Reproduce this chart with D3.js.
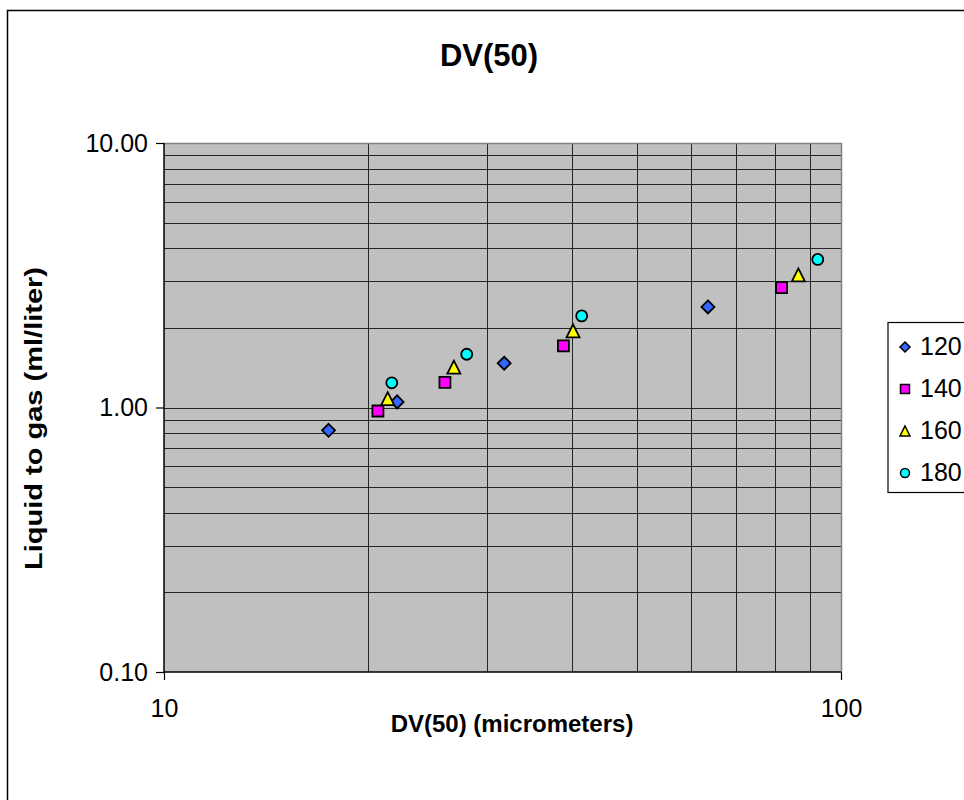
<!DOCTYPE html>
<html>
<head>
<meta charset="utf-8">
<script src="https://cdn.jsdelivr.net/npm/d3@7"></script>
<style>
  body { margin: 0; background: #fff; }
  svg { display: block; font-family: "Liberation Sans", Arial, sans-serif; }
</style>
</head>
<body>
<div id="chart"></div>
<script>
// series (x = DV(50) in micrometers, y = liquid to gas ml/liter)
const seriesNames = ['120', '140', '160', '180'];
const seriesColors = ['#3366ff', '#ff00ff', '#ffff00', '#00ffff'];
const seriesShapes = ['diamond', 'square', 'triangle', 'circle'];
const x120 = [17.5, 22.1, 31.8, 63.6];
const y120 = [0.82, 1.05, 1.47, 2.40];
const x140 = [20.7, 26.0, 38.9, 81.7];
const y140 = [0.97, 1.245, 1.71, 2.84];
const x160 = [21.4, 26.8, 40.2, 86.5];
const y160 = [1.08, 1.42, 1.95, 3.17];
const x180 = [21.7, 28.0, 41.4, 92.4];
const y180 = [1.24, 1.59, 2.22, 3.63];
const xTicks = [10, 100];
const yTicks = [0.1, 1, 10];

const seriesX = [x120, x140, x160, x180];
const seriesY = [y120, y140, y160, y180];

const W = 964, H = 800;
const plot = { left: 164, top: 143, right: 841, bottom: 672 };

const svg = d3.select('#chart').append('svg')
    .attr('width', W)
    .attr('height', H);

// outer chart border (runs past the right/bottom edge like the reference)
svg.append('rect')
    .attr('x', 7.5).attr('y', 10.5)
    .attr('width', W + 20).attr('height', H + 20)
    .attr('fill', '#fff')
    .attr('stroke', '#000')
    .attr('stroke-width', 1.5);

const x = d3.scaleLog().domain([10, 100]).range([plot.left, plot.right]);
const y = d3.scaleLog().domain([0.1, 10]).range([plot.bottom, plot.top]);

svg.append('rect')
    .attr('x', plot.left).attr('y', plot.top)
    .attr('width', plot.right - plot.left)
    .attr('height', plot.bottom - plot.top)
    .attr('fill', '#c0c0c0');

// gridlines at every log step (2..9 in each decade)
const grid = svg.append('g').attr('shape-rendering', 'crispEdges');
const xGrid = d3.range(2, 10).map(d => d * 10);
const yGrid = [].concat(
    d3.range(2, 10).map(d => d * 0.1),
    [1],
    d3.range(2, 10).map(d => d * 1)
);

grid.selectAll('line.xg')
    .data(xGrid)
    .enter()
    .append('line')
    .attr('class', 'xg')
    .attr('x1', d => Math.round(x(d)) + 0.5).attr('x2', d => Math.round(x(d)) + 0.5)
    .attr('y1', plot.top).attr('y2', plot.bottom)
    .attr('stroke', '#262626');

grid.selectAll('line.yg')
    .data(yGrid)
    .enter()
    .append('line')
    .attr('class', 'yg')
    .attr('x1', plot.left).attr('x2', plot.right)
    .attr('y1', d => Math.round(y(d)) + 0.5).attr('y2', d => Math.round(y(d)) + 0.5)
    .attr('stroke', '#262626');

// plot border (grey on top/right)
svg.append('path')
    .attr('d', `M${plot.left},${plot.top + 0.5}H${plot.right + 0.5}V${plot.bottom}`)
    .attr('fill', 'none')
    .attr('stroke', '#808080')
    .attr('stroke-width', 1.5);

// axes
const xAxis = d3.axisBottom(x)
    .tickValues(xTicks)
    .tickFormat(d3.format('d'))
    .tickSize(8)
    .tickPadding(19);
const yAxis = d3.axisLeft(y)
    .tickValues(yTicks)
    .tickFormat(d3.format('.2f'))
    .tickSize(8)
    .tickPadding(8);

const gx = svg.append('g')
    .attr('transform', `translate(0,${plot.bottom})`)
    .call(xAxis);
const gy = svg.append('g')
    .attr('transform', `translate(${plot.left},0)`)
    .call(yAxis);

[gx, gy].forEach(g => {
    g.select('.domain').attr('stroke', '#000').attr('stroke-width', 1.5);
    g.selectAll('.tick line').attr('stroke', '#000').attr('stroke-width', 1.2);
    g.selectAll('.tick text')
        .attr('fill', '#000')
        .style('font-size', '25px')
        .style('font-family', '"Liberation Sans", Arial, sans-serif');
});
gy.select('.domain').attr('d', `M0,${plot.bottom}V${plot.top}`);
gx.select('.domain').attr('d', `M${plot.left},0H${plot.right}`);

// titles
svg.append('text')
    .attr('x', 489).attr('y', 66)
    .attr('text-anchor', 'middle')
    .attr('font-weight', 'bold')
    .attr('font-size', 31)
    .text('DV(50)');

svg.append('text')
    .attr('x', 512).attr('y', 732)
    .attr('text-anchor', 'middle')
    .attr('font-weight', 'bold')
    .attr('font-size', 24)
    .text('DV(50) (micrometers)');

svg.append('text')
    .attr('transform', `translate(42,${(plot.top + plot.bottom) / 2 + 11}) rotate(-90)`)
    .attr('text-anchor', 'middle')
    .attr('font-weight', 'bold')
    .attr('font-size', 24)
    .attr('textLength', 303)
    .attr('lengthAdjust', 'spacingAndGlyphs')
    .text('Liquid to gas (ml/liter)');

// marker shapes
function markerPath(shape, s) {
    const h = s / 2;
    if (shape === 'diamond') return `M0,${-h}L${h},0L0,${h}L${-h},0Z`;
    if (shape === 'square') return `M${-h},${-h}H${h}V${h}H${-h}Z`;
    if (shape === 'triangle') return `M0,${-h}L${h},${h}H${-h}Z`;
    return d3.symbol(d3.symbolCircle, Math.PI * h * h)();
}
const plotSizes = { diamond: 13, square: 11, triangle: 13, circle: 11 };
const legendSizes = { diamond: 10, square: 9, triangle: 10, circle: 9 };

seriesNames.forEach((name, i) => {
    const pts = seriesX[i].map((xv, j) => ({ x: xv, y: seriesY[i][j] }));
    svg.append('g')
        .selectAll('path')
        .data(pts)
        .enter()
        .append('path')
        .attr('transform', d => `translate(${x(d.x)},${y(d.y)})`)
        .attr('d', markerPath(seriesShapes[i], plotSizes[seriesShapes[i]]))
        .attr('fill', seriesColors[i])
        .attr('stroke', '#000')
        .attr('stroke-width', 1.8)
        .attr('stroke-linejoin', 'miter');
});

// legend
const legend = svg.append('g');
legend.append('rect')
    .attr('x', 888).attr('y', 322.5)
    .attr('width', 100).attr('height', 170)
    .attr('fill', '#fff')
    .attr('stroke', '#000')
    .attr('stroke-width', 1.2);

const items = legend.selectAll('g.item')
    .data(seriesNames)
    .enter()
    .append('g')
    .attr('class', 'item')
    .attr('transform', (d, i) => `translate(0,${346 + i * 42})`);

items.append('path')
    .attr('transform', 'translate(905,1)')
    .attr('d', (d, i) => markerPath(seriesShapes[i], legendSizes[seriesShapes[i]]))
    .attr('fill', (d, i) => seriesColors[i])
    .attr('stroke', '#000')
    .attr('stroke-width', 1.5);

items.append('text')
    .attr('x', 920).attr('y', 9)
    .attr('font-size', 25)
    .text(d => d);
</script>
</body>
</html>
